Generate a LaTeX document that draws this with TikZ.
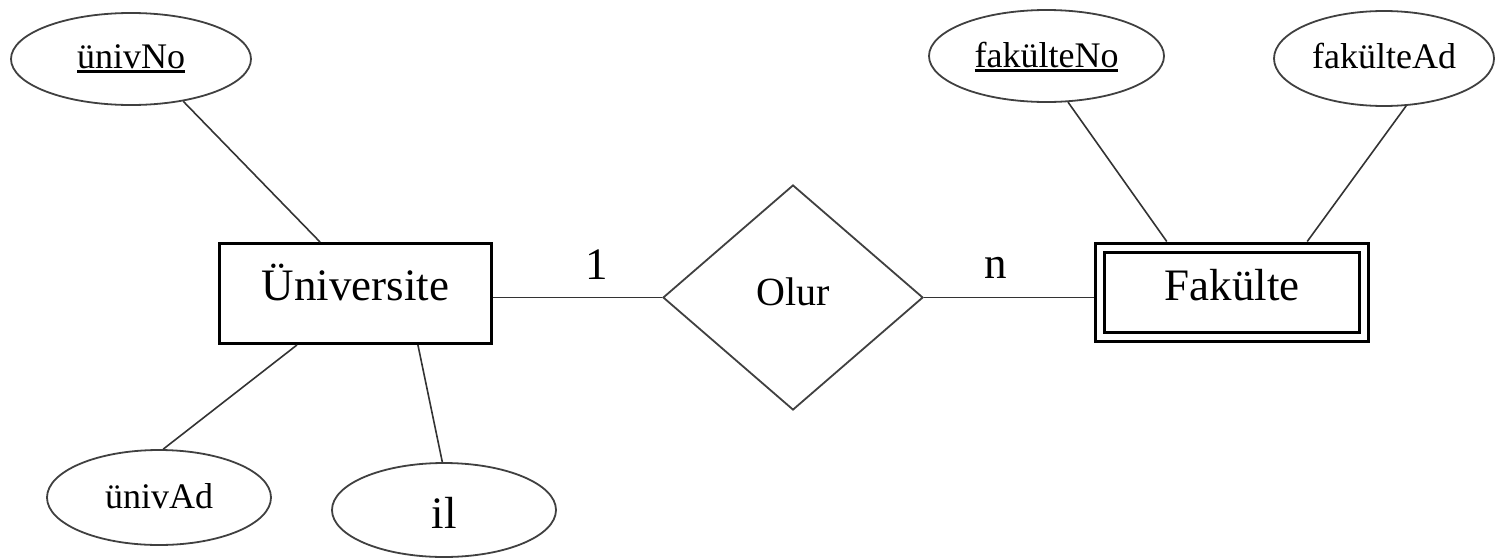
\documentclass[tikz,border=0pt]{standalone}
\usepackage{fontspec}
\setmainfont{Liberation Serif}
\usetikzlibrary{shapes.geometric,calc}
% key attribute: text with a thick rule under it
\newcommand\keyattr[1]{\vtop{\hbox{#1}\kern2pt\hrule height 2.5pt}}
\begin{document}
\begin{tikzpicture}[x=1pt,y=-1pt,
  attr/.style={ellipse, draw=black!75, line width=1.8pt, inner sep=0pt,
    font=\fontsize{36}{40}\selectfont, text depth=0pt},
  entity/.style={rectangle, draw=black, line width=3pt, inner sep=0pt,
    font=\fontsize{45}{50}\selectfont, text depth=0pt},
  rel/.style={diamond, draw=black!75, line width=1.8pt, inner sep=0pt,
    font=\fontsize{40}{44}\selectfont, text depth=0pt},
  link/.style={draw=black!80, line width=1.6pt},
  card/.style={anchor=base, inner sep=0pt, font=\fontsize{45}{50}\selectfont}]

\useasboundingbox (0,0) rectangle (1495,557);

% entities and relationship
\node[entity, minimum width=272pt, minimum height=100pt, text height=13pt]
  (uni) at (355.5,293.5) {Üniversite};
\node[entity, double, double distance=6pt, outer sep=6pt,
  minimum width=264.5pt, minimum height=89pt, text height=16pt]
  (fak) at (1232,292) {Fakülte};
\node[rel, minimum width=260pt, minimum height=225pt, text height=15pt]
  (olur) at (793,297.5) {Olur};

% attributes
\node[attr, minimum width=240pt, minimum height=92pt, text height=18pt]
  (univNo) at (131,59) {\keyattr{ünivNo}};
\node[attr, minimum width=224pt, minimum height=95pt, text height=22pt]
  (univAd) at (159,497.5) {ünivAd};
\node[attr, minimum width=224pt, minimum height=94pt, text height=36pt,
  font=\fontsize{45}{50}\selectfont]
  (il) at (444,510) {il};
\node[attr, minimum width=235pt, minimum height=92pt, text height=22pt]
  (fakNo) at (1046.5,56) {\keyattr{fakülteNo}};
\node[attr, minimum width=220pt, minimum height=95pt, text height=20pt]
  (fakAd) at (1384,58.5) {fakülteAd};

% cardinalities
\node[card] (c1) at (597,279) {1};
\node[card] (cn) at (996,278) {n};

% connectors
\draw[link] (olur.west) -- (olur.west -| uni.east);
\draw[link] (olur.east) -- (olur.east -| fak.west);
\draw[link] (univNo.-39) -- ($(uni.north west)!0.371!(uni.north east)$);
\draw[link] (univAd.85) -- ($(uni.south west)!0.287!(uni.south east)$);
\draw[link] (il.92) -- ($(uni.south west)!0.727!(uni.south east)$);
\draw[link] (fakNo.-65) -- ($(fak.north west)!0.264!(fak.north east)$);
\draw[link] (fakAd.-65) -- ($(fak.north west)!0.772!(fak.north east)$);
\end{tikzpicture}
\end{document}
